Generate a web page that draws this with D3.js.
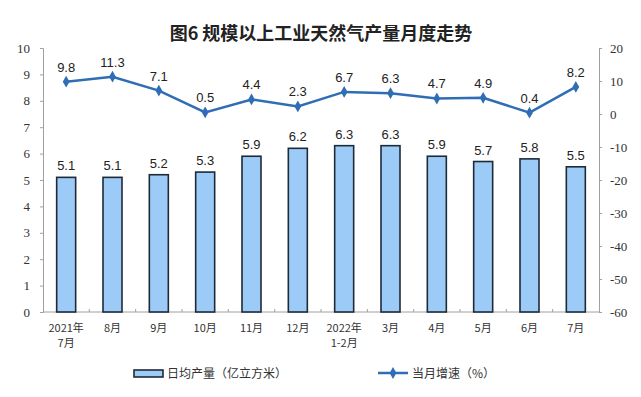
<!DOCTYPE html>
<html>
<head>
<meta charset="utf-8">
<script src="https://cdn.jsdelivr.net/npm/d3@7"></script>
<style>
body { margin: 0; background: #fff; }
svg text { font-family: "Liberation Sans", Arial, sans-serif; }
</style>
</head>
<body>
<svg id="chart" width="641" height="397"></svg>
<script>
// data
var months = ["2021年\n7月", "8月", "9月", "10月", "11月", "12月", "2022年\n1-2月", "3月", "4月", "5月", "6月", "7月"];
var dailyOutput = [5.1, 5.1, 5.2, 5.3, 5.9, 6.2, 6.3, 6.3, 5.9, 5.7, 5.8, 5.5];
var growth = [9.8, 11.3, 7.1, 0.5, 4.4, 2.3, 6.7, 6.3, 4.7, 4.9, 0.4, 8.2];
var leftTicks = [0, 1, 2, 3, 4, 5, 6, 7, 8, 9, 10];
var rightTicks = [-60, -50, -40, -30, -20, -10, 0, 10, 20];

var svg = d3.select("#chart");
var plotLeft = 43, plotRight = 599, plotTop = 48, plotBottom = 312;

var x = d3.scaleBand().domain(months).range([plotLeft, plotRight]).paddingInner(0.59).paddingOuter(0.295);
var yL = d3.scaleLinear().domain([0, 10]).range([plotBottom, plotTop]);
var yR = d3.scaleLinear().domain([-60, 20]).range([plotBottom, plotTop]);

// title
svg.append("text")
	.attr("x", 321).attr("y", 40)
	.attr("text-anchor", "middle")
	.style("font-family", "'Noto Sans CJK SC', sans-serif")
	.style("font-size", "18px")
	.style("font-weight", "bold")
	.attr("fill", "#222")
	.text("图6 规模以上工业天然气产量月度走势");

// axes (plain hyphen for negatives, like the source)
var axisColor = "#a0a0a0";
var plain = function(d){ return String(d); };
var gL = svg.append("g").attr("transform", "translate(" + plotLeft + ",0)")
	.call(d3.axisLeft(yL).tickValues(leftTicks).tickFormat(plain).tickSize(3).tickPadding(10));
var gR = svg.append("g").attr("transform", "translate(" + plotRight + ",0)")
	.call(d3.axisRight(yR).tickValues(rightTicks).tickFormat(plain).tickSize(3).tickPadding(8));
[gL, gR].forEach(function(g){
	g.select(".domain").attr("stroke", axisColor);
	g.selectAll(".tick line").attr("stroke", axisColor);
	g.selectAll(".tick text")
		.style("font-family", "'Liberation Serif', 'Times New Roman', serif")
		.style("font-size", "13px")
		.attr("fill", "#333");
});

// bottom axis line and ticks at band boundaries
svg.append("line")
	.attr("x1", plotLeft).attr("x2", plotRight)
	.attr("y1", plotBottom).attr("y2", plotBottom)
	.attr("stroke", axisColor);
var gap = x.step() - x.bandwidth();
svg.append("g").selectAll("line")
	.data(months.slice(1))
	.enter().append("line")
	.attr("x1", function(d){ return x(d) - gap / 2; })
	.attr("x2", function(d){ return x(d) - gap / 2; })
	.attr("y1", plotBottom).attr("y2", plotBottom - 3)
	.attr("stroke", axisColor);

// x labels
var xl = svg.append("g").selectAll("text")
	.data(months)
	.enter().append("text")
	.attr("x", function(d){ return x(d) + x.bandwidth() / 2; })
	.attr("y", 332)
	.attr("text-anchor", "middle")
	.style("font-family", "'Noto Sans CJK SC', sans-serif")
	.style("font-size", "11px")
	.attr("fill", "#333");
xl.each(function(d){
	var lines = d.split("\n");
	var t = d3.select(this);
	lines.forEach(function(s, i){
		t.append("tspan")
			.attr("x", x(d) + x.bandwidth() / 2)
			.attr("dy", i == 0 ? 0 : 15)
			.text(s);
	});
});

// bars
svg.append("g").selectAll("rect")
	.data(dailyOutput)
	.enter().append("rect")
	.attr("x", function(d, i){ return x(months[i]); })
	.attr("y", function(d){ return yL(d); })
	.attr("width", x.bandwidth())
	.attr("height", function(d){ return plotBottom - yL(d); })
	.attr("fill", "#9dcbf7")
	.attr("stroke", "#1e2a38")
	.attr("stroke-width", 1.6);

svg.append("g").selectAll("text")
	.data(dailyOutput)
	.enter().append("text")
	.attr("x", function(d, i){ return x(months[i]) + x.bandwidth() / 2; })
	.attr("y", function(d){ return yL(d) - 7; })
	.attr("text-anchor", "middle")
	.style("font-size", "13px")
	.attr("fill", "#222")
	.text(function(d){ return d.toFixed(1); });

// growth line
var lineColor = "#2f6db5";
var line = d3.line()
	.x(function(d, i){ return x(months[i]) + x.bandwidth() / 2; })
	.y(function(d){ return yR(d); });
svg.append("path")
	.datum(growth)
	.attr("d", line)
	.attr("fill", "none")
	.attr("stroke", lineColor)
	.attr("stroke-width", 2.5);

var diamond = d3.symbol().type(d3.symbolDiamond).size(40);
svg.append("g").selectAll("path")
	.data(growth)
	.enter().append("path")
	.attr("d", diamond)
	.attr("transform", function(d, i){ return "translate(" + (x(months[i]) + x.bandwidth() / 2) + "," + yR(d) + ")"; })
	.attr("fill", lineColor);

svg.append("g").selectAll("text")
	.data(growth)
	.enter().append("text")
	.attr("x", function(d, i){ return x(months[i]) + x.bandwidth() / 2; })
	.attr("y", function(d){ return yR(d) - 10; })
	.attr("text-anchor", "middle")
	.style("font-size", "13px")
	.attr("fill", "#222")
	.text(function(d){ return d.toFixed(1); });

// legend
var lg = svg.append("g");
lg.append("rect")
	.attr("x", 134).attr("y", 370).attr("width", 29).attr("height", 7)
	.attr("fill", "#9dcbf7").attr("stroke", "#1e2a38").attr("stroke-width", 1.6);
lg.append("text")
	.attr("x", 167).attr("y", 378)
	.style("font-family", "'Noto Sans CJK SC', sans-serif")
	.style("font-size", "12px").attr("fill", "#333")
	.text("日均产量（亿立方米）");
lg.append("line")
	.attr("x1", 378).attr("x2", 408).attr("y1", 373).attr("y2", 373)
	.attr("stroke", lineColor).attr("stroke-width", 2.5);
lg.append("path")
	.attr("d", diamond)
	.attr("transform", "translate(393,373)")
	.attr("fill", lineColor);
lg.append("text")
	.attr("x", 412).attr("y", 378)
	.style("font-family", "'Noto Sans CJK SC', sans-serif")
	.style("font-size", "12px").attr("fill", "#333")
	.text("当月增速（%）");
</script>
</body>
</html>
